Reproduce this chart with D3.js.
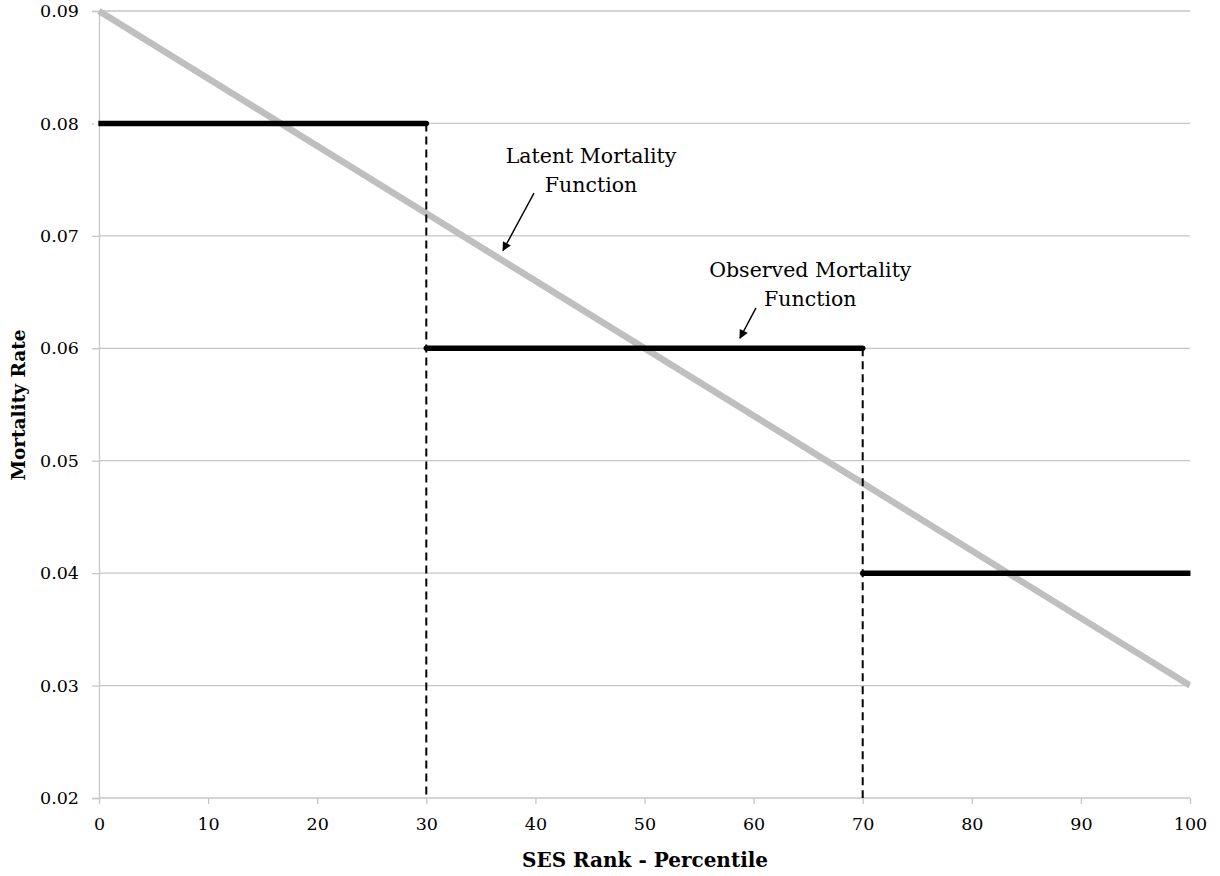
<!DOCTYPE html>
<html><head><meta charset="utf-8">
<script src="https://cdn.jsdelivr.net/npm/d3@7"></script>
<style>body{margin:0;background:#fff}svg text{font-family:"DejaVu Serif",serif;fill:#000}</style>
</head><body><svg id="c" width="1220" height="876"></svg>
<script>
const xTicks = [0,10,20,30,40,50,60,70,80,90,100];
const yTicks = [0.02,0.03,0.04,0.05,0.06,0.07,0.08,0.09];
const latentX = [0,100];
const latentY = [0.09,0.03];
const stepStart = [0,30,70];
const stepEnd = [30,70,100];
const stepValue = [0.08,0.06,0.04];
const dropX = [30,70];
const dropTop = [0.08,0.06];
const annotations = [
  {lines:["Latent Mortality","Function"], x:45.1, y:0.0765, from:[39.87,0.0738], to:[37.03,0.0687]},
  {lines:["Observed Mortality","Function"], x:65.2, y:0.0663, from:[60.22,0.0636], to:[58.75,0.0609]}
];

const svg = d3.select("#c");
const x = d3.scaleLinear().domain([0,100]).range([99,1190]);
const y = d3.scaleLinear().domain([0.02,0.09]).range([798,11]);

// gridlines
svg.append("g").selectAll("line").data(yTicks.slice(1)).join("line")
  .attr("x1",x(0)).attr("x2",x(100)).attr("y1",d=>y(d)).attr("y2",d=>y(d))
  .attr("stroke","#c6c6c6").attr("stroke-width",1.3);

// y axis
const ya = svg.append("g").attr("transform",`translate(${x(0)},0)`)
  .call(d3.axisLeft(y).tickValues(yTicks).tickFormat(d3.format(".2f")).tickSize(7).tickPadding(13));
ya.select(".domain").attr("stroke","#c6c6c6").attr("stroke-width",1.3);
ya.selectAll(".tick line").attr("stroke","#c6c6c6").attr("stroke-width",1.3);
ya.selectAll("text").attr("font-size",17.5).attr("font-family","DejaVu Serif");

// x axis
const xa = svg.append("g").attr("transform",`translate(0,${y(0.02)})`)
  .call(d3.axisBottom(x).tickValues(xTicks).tickFormat(d3.format("d")).tickSize(6).tickPadding(14));
xa.select(".domain").attr("stroke","#c6c6c6").attr("stroke-width",1.3).attr("d",`M${x(0)},0H${x(100)}`);
xa.selectAll(".tick line").attr("stroke","#c6c6c6").attr("stroke-width",1.3);
xa.selectAll("text").attr("font-size",17.5).attr("font-family","DejaVu Serif");

// latent line
svg.append("line").attr("x1",x(latentX[0])).attr("y1",y(latentY[0]))
  .attr("x2",x(latentX[1])).attr("y2",y(latentY[1]))
  .attr("stroke","#bfbfbf").attr("stroke-width",6.5);

// dashed drops
svg.append("g").selectAll("line").data(dropX).join("line")
  .attr("x1",d=>x(d)).attr("x2",d=>x(d)).attr("y1",(d,i)=>y(dropTop[i])).attr("y2",y(0.02))
  .attr("stroke","#000").attr("stroke-width",2).attr("stroke-dasharray","8,5");

// steps
svg.append("g").selectAll("line").data(stepValue).join("line")
  .attr("x1",(d,i)=>x(stepStart[i])).attr("x2",(d,i)=>x(stepEnd[i]))
  .attr("y1",d=>y(d)).attr("y2",d=>y(d))
  .attr("stroke","#000").attr("stroke-width",5.5).attr("stroke-linecap","round");
// square-off the edges at the plot boundaries
svg.append("rect").attr("x",x(100)+0.5).attr("y",0).attr("width",40).attr("height",790).attr("fill","#fff");
svg.append("rect").attr("x",x(0)-5).attr("y",y(0.08)-4).attr("width",4.3).attr("height",8).attr("fill","#fff");

// annotations
svg.append("defs").append("marker").attr("id","ah").attr("viewBox","0 0 10 10").attr("refX",9).attr("refY",5)
  .attr("markerWidth",11).attr("markerHeight",9).attr("markerUnits","userSpaceOnUse").attr("orient","auto")
  .append("path").attr("d","M0,0L10,5L0,10z").attr("fill","#000");
annotations.forEach(a=>{
  const t = svg.append("text").attr("text-anchor","middle").attr("font-size",20.5);
  a.lines.forEach((l,i)=>t.append("tspan").attr("x",x(a.x)).attr("y",y(a.y)+i*29).text(l));
  svg.append("line").attr("x1",x(a.from[0])).attr("y1",y(a.from[1])).attr("x2",x(a.to[0])).attr("y2",y(a.to[1]))
    .attr("stroke","#000").attr("stroke-width",1.4).attr("marker-end","url(#ah)");
});

// axis titles
svg.append("text").attr("x",645).attr("y",867).attr("text-anchor","middle")
  .attr("font-size",20).attr("font-weight","bold").text("SES Rank - Percentile");
svg.append("text").attr("transform","translate(25,405) rotate(-90)").attr("text-anchor","middle")
  .attr("font-size",18.5).attr("font-weight","bold").text("Mortality Rate");
</script></body></html>
